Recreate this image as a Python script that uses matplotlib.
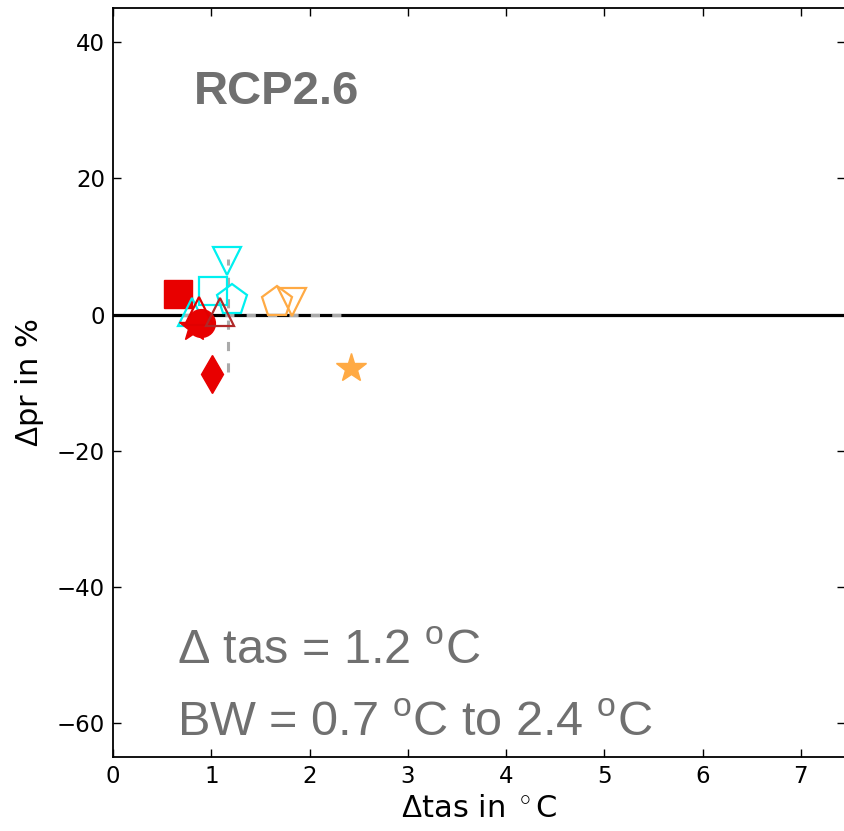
import numpy as np
import matplotlib
matplotlib.use("Agg")
import matplotlib.pyplot as plt

# -------------------------
# Data
# -------------------------
model_x = [0.66, 1.02, 1.16, 1.21, 0.80, 0.89, 0.82, 0.87, 1.09, 1.01, 1.67, 1.82, 2.42]
model_y = [3.1, 3.5, 7.9, 2.1, 0.4, -1.2, -1.8, 0.6, 0.4, -8.7, 1.8, 1.8, -7.9]
model_marker = ['s', 's', 'v', 'p', '^', 'o', '*', '^', '^', 'd', 'p', 'v', '*']
model_color = ['#e80000', '#00f0f0', '#00f0f0', '#00f0f0', '#00f0f0', '#e80000', '#e80000',
               '#e00000', '#b02828', '#e80000', '#ffaa44', '#ffaa44', '#ffaa44']
model_filled = [True, False, False, False, False, True, True, False, False, True, False, False, True]

# ensemble mean warming and spread
mean_tas = 1.17
pr_range = [-8.5, 8.2]
bw_range = [0.7, 2.4]

# -------------------------
# Plotting
# -------------------------
plt.rcParams["mathtext.fontset"] = "custom"
plt.rcParams["mathtext.rm"] = "Liberation Sans"

fig = plt.figure(figsize=(8.45, 8.31), dpi=100)
ax = fig.add_axes([0.134, 0.089, 0.866, 0.901])

ax.axhline(0, color='black', lw=2.3, zorder=1)
ax.plot([mean_tas, mean_tas], pr_range, color='#aaaaaa', lw=2.2, ls=(0, (3, 4)), zorder=2)
ax.plot(bw_range, [0, 0], color='#aaaaaa', lw=2.2, ls=(0, (3, 4)), zorder=2)

for x, y, m, c, f in zip(model_x, model_y, model_marker, model_color, model_filled):
    ms = 20
    if m == 'd':
        ms = 19
    if m == '*':
        ms = 22
    if m == 'p':
        ms = 23
    if f:
        ax.plot(x, y, marker=m, color=c, ms=ms, mec=c, mfc=c, ls='none', zorder=3)
    else:
        ax.plot(x, y, marker=m, color=c, ms=ms, mec=c, mfc='none', mew=1.6, ls='none', zorder=3)

ax.set_xlim(0, 7.45)
ax.set_ylim(-65, 45)
ax.set_xticks(range(0, 8))
ax.set_yticks([-60, -40, -20, 0, 20, 40])
ax.set_yticklabels(['\u221260', '\u221240', '\u221220', '0', '20', '40'])
ax.tick_params(direction='in', top=True, right=True, length=6, width=1, labelsize=16.5, pad=6)
for s in ax.spines.values():
    s.set_linewidth(1.3)

ax.set_xlabel(r"$\Delta$tas in $^\circ$C", fontsize=22, family='DejaVu Sans', labelpad=4)
ax.set_ylabel(r"$\Delta$pr in %", fontsize=22, family='DejaVu Sans', labelpad=8)

gray = '#707070'
ax.text(0.82, 31.0, "RCP2.6", fontsize=34, fontweight='bold', color=gray,
        family='Liberation Sans')
ax.text(0.65, -51.3, r"$\Delta$ tas = 1.2 $^{\mathrm{o}}$C", fontsize=35, color=gray,
        family='Liberation Sans')
ax.text(0.65, -61.9, r"BW = 0.7 $^{\mathrm{o}}$C to 2.4 $^{\mathrm{o}}$C", fontsize=35, color=gray,
        family='Liberation Sans')

plt.savefig("out.png", dpi=100)
